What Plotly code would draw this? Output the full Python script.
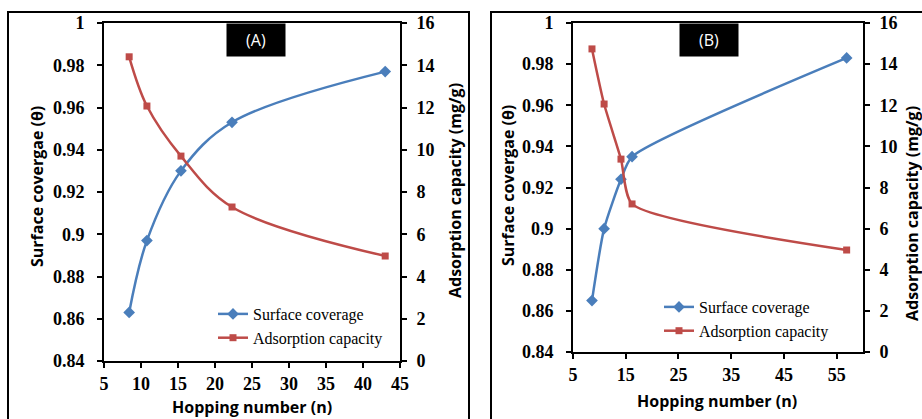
import plotly.graph_objects as go

W, H = 922, 419

# ---------------- data ----------------
# Panel (A)
hop_A = [8.4, 10.8, 15.4, 22.3, 43.0]
coverage_A = [0.863, 0.897, 0.930, 0.953, 0.977]
capacity_A = [14.4, 12.07, 9.70, 7.29, 4.97]

# Panel (B)
hop_B = [8.6, 10.9, 14.1, 16.2, 56.9]
coverage_B = [0.865, 0.900, 0.924, 0.935, 0.983]
capacity_B = [14.74, 12.06, 9.38, 7.20, 4.96]

# tick labels
theta_ticks = [0.84, 0.86, 0.88, 0.90, 0.92, 0.94, 0.96, 0.98, 1.0]
theta_ticktext = ["0.84", "0.86", "0.88", "0.9", "0.92", "0.94", "0.96", "0.98", "1"]
cap_ticks = [0, 2, 4, 6, 8, 10, 12, 14, 16]
cap_ticktext = ["0", "2", "4", "6", "8", "10", "12", "14", "16"]
xA_ticks = [5, 10, 15, 20, 25, 30, 35, 40, 45]
xA_ticktext = ["5", "10", "15", "20", "25", "30", "35", "40", "45"]
xB_ticks = [5, 15, 25, 35, 45, 55]
xB_ticktext = ["5", "15", "25", "35", "45", "55"]

series_names = ["Surface coverage", "Adsorption capacity"]
x_title = "Hopping number (n)"
y_title = "Surface covergae (θ)"
y2_title = "Adsorption capacity (mg/g)"

BLUE = "#4A7EBB"
RED = "#BE4B48"
SERIF = "Liberation Serif"


def px_x(p):
    return p / W


def px_y(p):
    return 1 - p / H


def serif_bold(labels):
    return ["<span style=\"font-family:'Liberation Serif',serif;font-weight:bold\"><b>%s</b></span>" % t
            for t in labels]


def tfont():
    return dict(family=SERIF, size=18, color="black", weight="bold")


def axis(**kw):
    d = dict(showline=True, linecolor="black", linewidth=2, ticks="outside",
             ticklen=5, tickwidth=2, tickcolor="black", showgrid=False,
             zeroline=False, automargin=False, tickfont=tfont())
    d.update(kw)
    return d


fig = go.Figure()

# Panel A
fig.add_trace(go.Scatter(x=hop_A, y=coverage_A, name=series_names[0], mode="lines+markers",
                         line=dict(color=BLUE, width=2.5, shape="spline"),
                         marker=dict(symbol="diamond", size=9, color=BLUE),
                         xaxis="x", yaxis="y", legend="legend"))
fig.add_trace(go.Scatter(x=hop_A, y=capacity_A, name=series_names[1], mode="lines+markers",
                         line=dict(color=RED, width=2.5, shape="spline"),
                         marker=dict(symbol="square", size=7, color=RED),
                         xaxis="x", yaxis="y2", legend="legend"))
# Panel B
fig.add_trace(go.Scatter(x=hop_B, y=coverage_B, name=series_names[0], mode="lines+markers",
                         line=dict(color=BLUE, width=2.5, shape="spline", smoothing=0.6),
                         marker=dict(symbol="diamond", size=9, color=BLUE),
                         xaxis="x2", yaxis="y3", legend="legend2"))
fig.add_trace(go.Scatter(x=hop_B, y=capacity_B, name=series_names[1], mode="lines+markers",
                         line=dict(color=RED, width=2.5, shape="spline", smoothing=0.6),
                         marker=dict(symbol="square", size=7, color=RED),
                         xaxis="x2", yaxis="y4", legend="legend2"))

fig.update_layout(
    width=W, height=H,
    margin=dict(l=0, r=0, t=0, b=0),
    paper_bgcolor="white", plot_bgcolor="white",
    xaxis=axis(domain=[px_x(104), px_x(400)], range=[5, 45], tickvals=xA_ticks,
               ticktext=serif_bold(xA_ticktext), anchor="y", mirror=True),
    yaxis=axis(domain=[px_y(361), px_y(23)], range=[0.84, 1.0], tickvals=theta_ticks,
               ticktext=serif_bold(theta_ticktext), anchor="x", ticklabelstandoff=9),
    yaxis2=axis(overlaying="y", side="right", anchor="x", range=[0, 16], tickvals=cap_ticks,
                ticktext=serif_bold(cap_ticktext), ticklabelstandoff=6),
    xaxis2=axis(domain=[px_x(573), px_x(863)], range=[5, 60], tickvals=xB_ticks,
                ticktext=serif_bold(xB_ticktext), anchor="y3", mirror=True),
    yaxis3=axis(domain=[px_y(352), px_y(23)], range=[0.84, 1.0], tickvals=theta_ticks,
                ticktext=serif_bold(theta_ticktext), anchor="x2", ticklabelstandoff=9),
    yaxis4=axis(overlaying="y3", side="right", anchor="x2", range=[0, 16], tickvals=cap_ticks,
                ticktext=serif_bold(cap_ticktext), ticklabelstandoff=6),
    legend=dict(x=px_x(213), y=px_y(297), xanchor="left", yanchor="top",
                bgcolor="rgba(0,0,0,0)", tracegroupgap=0,
                font=dict(family=SERIF, size=16, color="black")),
    legend2=dict(x=px_x(659), y=px_y(290), xanchor="left", yanchor="top",
                 bgcolor="rgba(0,0,0,0)", tracegroupgap=0,
                 font=dict(family=SERIF, size=16, color="black")),
    showlegend=True,
)

# axis titles
title_font = dict(family="Open Sans", size=16, color="black", weight="bold")
titles = [
    (x_title, 252, 407, 0),
    (y_title, 37, 187, -90),
    (y2_title, 455, 191, -90),
    (x_title, 717, 401, 0),
    (y_title, 508, 186, -90),
    (y2_title, 912, 214, -90),
]
for text, tx, ty, ang in titles:
    fig.add_annotation(text=text, x=px_x(tx), y=px_y(ty), xref="paper", yref="paper",
                       xanchor="center", yanchor="middle", textangle=ang,
                       showarrow=False, font=title_font)

# panel labels
for label, cx in [("(A)", 256), ("(B)", 709)]:
    fig.add_annotation(text=label, x=px_x(cx), y=px_y(40), xref="paper", yref="paper",
                       xanchor="center", yanchor="middle",
                       showarrow=False, bgcolor="black", width=56, height=30,
                       font=dict(family="Open Sans", size=16, color="white"))

# outer panel frames
fig.add_shape(type="rect", xref="paper", yref="paper", x0=px_x(8), x1=px_x(469),
              y0=-0.2, y1=px_y(12), line=dict(color="black", width=2), layer="below")
fig.add_shape(type="rect", xref="paper", yref="paper", x0=px_x(491), x1=1.2,
              y0=-0.2, y1=px_y(12), line=dict(color="black", width=2), layer="below")

fig.write_html("out.html")
